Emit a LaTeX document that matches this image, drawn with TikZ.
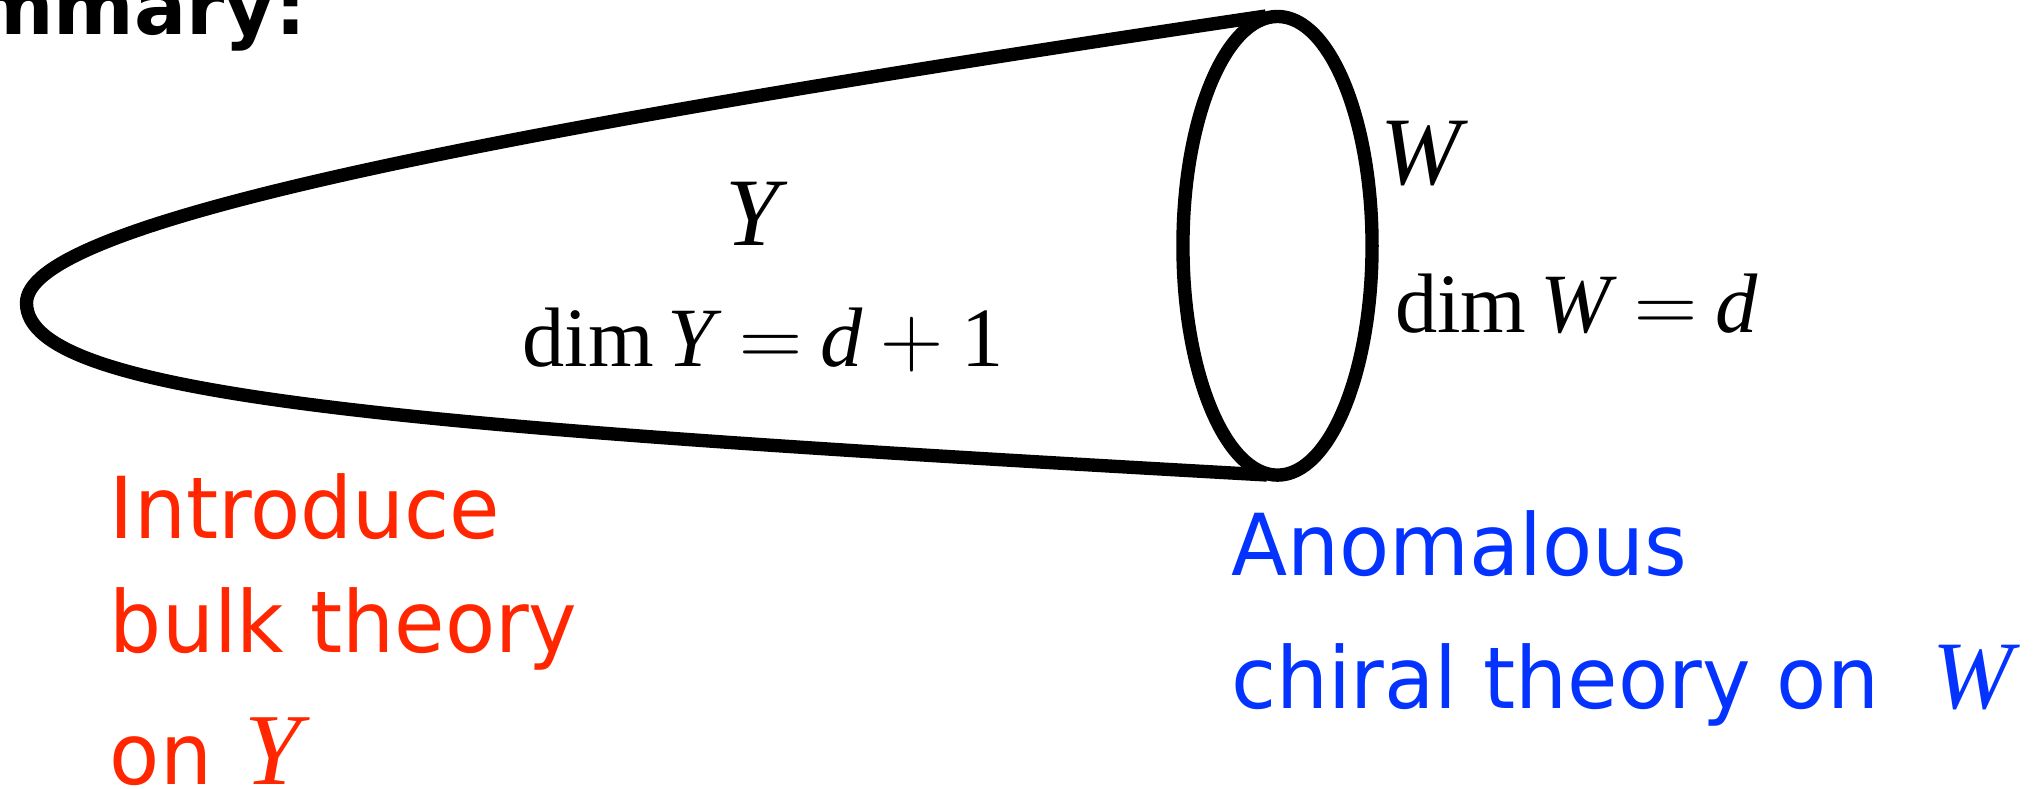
\documentclass[tikz,border=0pt]{standalone}
\usepackage{fontspec}
\setmainfont{Liberation Serif}
\newfontfamily\sansf[FakeStretch=0.96]{DejaVu Sans}
\newfontfamily\titlef{DejaVu Sans}
\definecolor{kred}{RGB}{255,38,0}
\definecolor{kblue}{RGB}{4,51,255}
\newcommand\msp{\hspace{0.21em}}
\newcommand\thsp{\hspace{0.1667em}}
\newcommand\opeq{$=$}
\newcommand\opplus{$+$}
\tikzset{
  stroke/.style={line width=3.8pt, line cap=butt, line join=round},
  lbl/.style={inner sep=0pt, outer sep=0pt},
  bigmath/.style={lbl, font=\fontsize{27.5}{30}\selectfont},
  dimmath/.style={lbl, font=\fontsize{24}{28}\selectfont},
  redtxt/.style={lbl, anchor=base west, text=kred, font=\sansf\fontsize{24.3}{28}\selectfont},
  bluetxt/.style={lbl, anchor=base west, text=kblue, font=\sansf\fontsize{24.3}{28}\selectfont}
}
\newcommand\bigit[2]{{\rmfamily\itshape\fontsize{#1}{30}\selectfont #2}}
\begin{document}
\begin{tikzpicture}[x=0.01cm, y=-0.01cm]
\useasboundingbox (0,0) rectangle (2036,789);
% title (cut off at the page edge)
\node[lbl, anchor=base east, font=\titlef\bfseries\fontsize{22}{24}\selectfont] (title) at (306,35) {mmary:};
% cone
\coordinate (topend) at (1266,16);
\coordinate (tip) at (26.5,303);
\coordinate (botend) at (1267,475);
\draw[stroke] (topend) .. controls (416,141.8) and (26.5,228) .. (tip)
  .. controls (26.5,398) and (417,427.4) .. (botend);
% boundary circle
\draw[stroke] (1277.5,245.8) ellipse [x radius=0.945cm, y radius=2.292cm];
% labels
\node[bigmath, anchor=base] (ylab) at (757,246) {\textit{Y}};
\node[dimmath, anchor=base] (ydim) at (763,367) {dim\thsp\textit{Y}\msp\opeq\msp\textit{d}\msp\opplus\msp1};
\node[bigmath, anchor=base west] (wlab) at (1380,185) {\textit{W}};
\node[dimmath, anchor=base west] (wdim) at (1395,333) {dim\thsp\textit{W}\msp\opeq\msp\textit{d}};
% red text
\node[redtxt] (r1) at (110,539) {Introduce};
\node[redtxt] (r2) at (110,653) {bulk theory};
\node[redtxt] (r3) at (110,785) {on\hspace{0.38em}\bigit{29}{Y}};
% blue text
\node[bluetxt] (b1) at (1231,576) {Anomalous};
\node[bluetxt] (b2) at (1231,709) {chiral theory on\hspace{0.62em}\bigit{27.5}{W}};
\end{tikzpicture}
\end{document}
